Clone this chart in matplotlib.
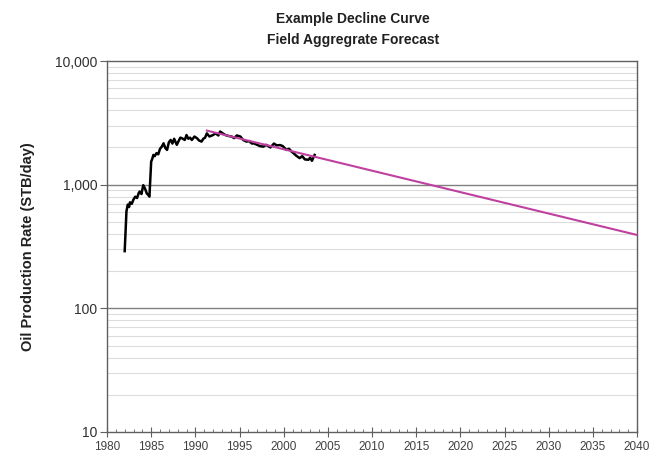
import numpy as np
import matplotlib.pyplot as plt
from matplotlib.ticker import FixedLocator, MultipleLocator, FuncFormatter

plt.rcParams['font.family'] = ['Liberation Sans', 'DejaVu Sans']

# historical field production
hist_year = [1982.0, 1982.1, 1982.2, 1982.35, 1982.5, 1982.6, 1982.8, 1983.0, 1983.2,
             1983.4, 1983.6, 1983.7, 1983.9, 1984.1, 1984.3, 1984.5, 1984.7, 1984.8,
             1985.0, 1985.1, 1985.25, 1985.4, 1985.6, 1985.8, 1986.0, 1986.2, 1986.4,
             1986.6, 1986.8, 1987.0, 1987.2, 1987.4, 1987.6, 1987.9, 1988.1, 1988.3,
             1988.5, 1988.8, 1989.0, 1989.2, 1989.4, 1989.6, 1989.9, 1990.2, 1990.4,
             1990.7, 1990.9, 1991.1, 1991.3, 1991.6, 1992.0, 1992.3, 1992.6, 1992.8,
             1993.1, 1993.4, 1993.7, 1994.1, 1994.4, 1994.7, 1995.1, 1995.4, 1995.8,
             1996.1, 1996.4, 1996.6, 1997.0, 1997.3, 1997.7, 1998.0, 1998.5, 1998.9,
             1999.2, 1999.6, 1999.9, 2000.3, 2000.6, 2000.9, 2001.1, 2001.4, 2001.8,
             2002.1, 2002.4, 2002.8, 2003.0, 2003.2, 2003.5]
hist_rate = [290, 420, 610, 690, 660, 720, 700, 760, 800,
             780, 860, 880, 840, 990, 930, 850, 820, 800,
             1540, 1600, 1740, 1700, 1800, 1760, 1950, 2030, 2160,
             1980, 1910, 2200, 2300, 2150, 2350, 2100, 2250, 2400,
             2370, 2300, 2520, 2350, 2400, 2300, 2450, 2370, 2280,
             2230, 2350, 2400, 2600, 2450, 2520, 2600, 2500, 2690,
             2600, 2520, 2480, 2450, 2380, 2500, 2450, 2300, 2230,
             2250, 2150, 2160, 2100, 2050, 2030, 2100, 2000, 2150,
             2080, 2090, 2050, 1910, 1950, 1850, 1800, 1720, 1640,
             1700, 1600, 1590, 1650, 1560, 1740]

# exponential decline forecast
fc_year = [1991.3, 2040]
fc_rate = [2736, 392]

fig = plt.figure(figsize=(6.51, 4.58), dpi=100)
ax = fig.add_axes([0.1644, 0.0568, 0.8141, 0.81])

ax.set_yscale('log')
ax.set_ylim(10, 10000)
ax.set_xlim(1980, 2040)

# gridlines
for d in [10, 100, 1000]:
    for m in range(2, 10):
        ax.axhline(d * m, color='#dcdcdc', lw=0.8, zorder=0)
for v in [100, 1000]:
    ax.axhline(v, color='#808080', lw=1.0, zorder=0)

yrs = np.linspace(fc_year[0], fc_year[1], 50)
D = np.log(fc_rate[0] / fc_rate[1]) / (fc_year[1] - fc_year[0])
ax.plot(yrs, fc_rate[0] * np.exp(-D * (yrs - fc_year[0])), color='#C0409F', lw=1.5, zorder=3)
ax.plot(hist_year, hist_rate, color='black', lw=1.8, zorder=2)

for s in ax.spines.values():
    s.set_color('#606060')
    s.set_linewidth(1.0)

ax.yaxis.set_major_locator(FixedLocator([10, 100, 1000, 10000]))
ax.yaxis.set_minor_locator(FixedLocator([]))
ax.yaxis.set_major_formatter(FuncFormatter(lambda v, p: f'{int(v):,}'))
ax.tick_params(axis='y', which='major', direction='out', length=5, color='#606060',
               labelsize=10, labelcolor='#303030', pad=2)

ax.xaxis.set_major_locator(MultipleLocator(5))
ax.xaxis.set_minor_locator(MultipleLocator(1))
ax.tick_params(axis='x', which='major', direction='inout', length=7, color='#606060',
               labelsize=8.5, labelcolor='#404040', pad=3)
ax.tick_params(axis='x', which='minor', direction='in', length=2.5, color='#606060')

ax.set_ylabel('Oil Production Rate (STB/day)', fontsize=10.5, fontweight='bold',
              color='#202020', labelpad=14)

fig.text(0.542, 0.958, 'Example Decline Curve', ha='center', va='center',
         fontsize=10, fontweight='bold', color='#202020')
fig.text(0.542, 0.912, 'Field Aggregrate Forecast', ha='center', va='center',
         fontsize=10, fontweight='bold', color='#202020')

fig.savefig('out.png', dpi=100)
